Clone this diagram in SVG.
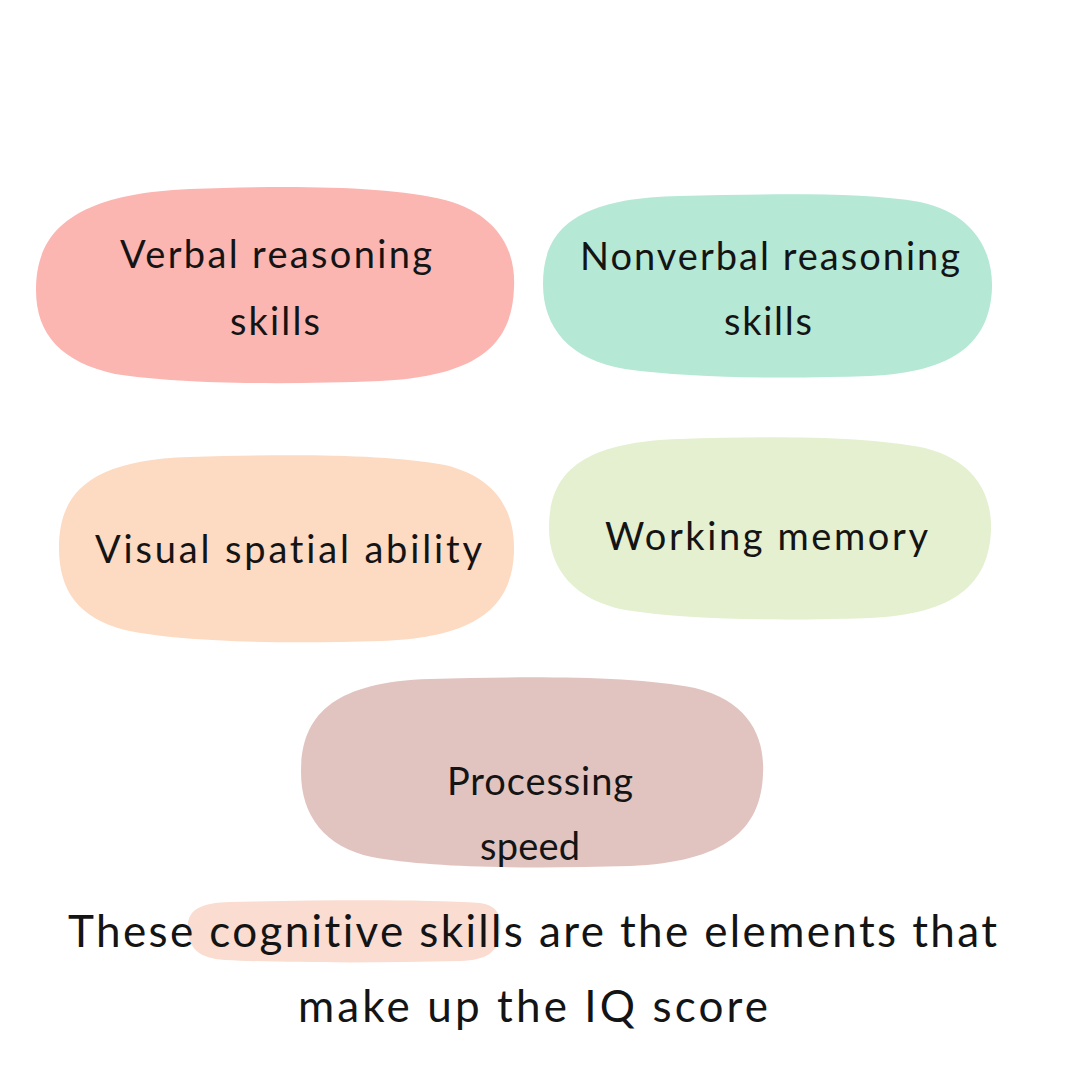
<svg xmlns="http://www.w3.org/2000/svg" width="1080" height="1080" viewBox="0 0 1080 1080">
<style>
.t{font-family:Lato,"Open Sans","DejaVu Sans",sans-serif;fill:#141414;text-anchor:start;font-variant-ligatures:none}
.n{font-size:38px}
.b{font-size:44px}
</style>
<rect width="1080" height="1080" fill="#ffffff"/>
<g id="node-verbal">
<path fill="#fbb6b2" d="M36,290 C36,232 72,194 190,189 C290,185 390,186 445,200 C500,215 516,252 514,288 C512,345 478,376 380,381 C280,385 180,384 115,374 C62,362 36,335 36,290 Z"/>
<text class="t n" x="120" y="268" textLength="312" lengthAdjust="spacing">Verbal reasoning</text>
<text class="t n" x="230" y="335" textLength="90" lengthAdjust="spacing">skills</text>
</g>
<g id="node-nonverbal">
<path fill="#b5e8d5" d="M543,284 C543,230 575,198 680,196 C770,194 860,192 920,202 C975,214 993,252 992,288 C990,342 955,372 870,376 C780,379 690,378 625,369 C570,360 543,328 543,284 Z"/>
<text class="t n" x="580" y="270" textLength="380" lengthAdjust="spacing">Nonverbal reasoning</text>
<text class="t n" x="724" y="335" textLength="88" lengthAdjust="spacing">skills</text>
</g>
<g id="node-visual">
<path fill="#fddac2" d="M59,548 C59,494 88,460 190,457 C290,454 385,454 445,465 C498,478 515,512 514,552 C512,608 475,638 380,641 C280,644 180,642 125,630 C78,618 59,590 59,548 Z"/>
<text class="t n" x="95" y="563" textLength="387" lengthAdjust="spacing">Visual spatial ability</text>
</g>
<g id="node-working">
<path fill="#e4f0cf" d="M549,528 C549,474 580,442 680,439 C770,436 865,436 925,448 C975,461 992,494 991,530 C989,584 955,614 870,618 C780,621 690,620 625,610 C575,600 549,570 549,528 Z"/>
<text class="t n" x="605" y="550" textLength="323" lengthAdjust="spacing">Working memory</text>
</g>
<g id="node-processing">
<path fill="#e1c4c0" d="M301,772 C301,716 332,682 430,679 C530,676 635,676 695,688 C748,701 765,736 763,774 C761,830 725,862 630,866 C530,869 430,868 372,857 C325,847 301,816 301,772 Z"/>
<text class="t n" x="447" y="795" textLength="186" lengthAdjust="spacing">Processing</text>
<text class="t n" x="480" y="860" textLength="100" lengthAdjust="spacing">speed</text>
</g>
<g id="caption">
<path fill="#fadcd0" d="M188,930 C186,910 200,903 230,902 C320,900 420,899 480,903 C497,905 502,915 500,932 C498,952 488,960 460,961 C380,963 290,963 225,960 C198,958 189,948 188,930 Z"/>
<text class="t b" x="68" y="947" textLength="929" lengthAdjust="spacing">These cognitive skills are the elements that</text>
<text class="t b" x="298" y="1022" textLength="470" lengthAdjust="spacing">make up the IQ score</text>
</g>
<g id="connectors"></g>
</svg>
